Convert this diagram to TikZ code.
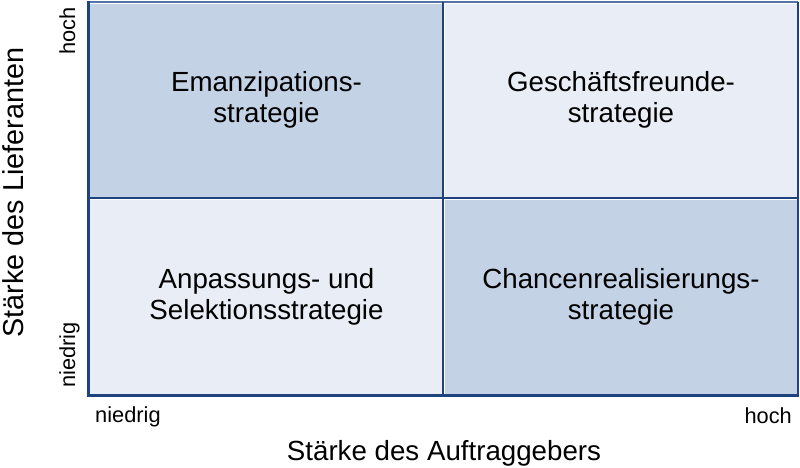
\documentclass[tikz,border=0pt]{standalone}
\usepackage{fontspec}
\setmainfont{Liberation Sans}
\definecolor{cdark}{HTML}{C4D2E5}
\definecolor{clight}{HTML}{E9EDF5}
\definecolor{lnavy}{HTML}{1F437C}
\definecolor{ltop}{HTML}{5573A6}
\begin{document}
\begin{tikzpicture}[x=1pt,y=-1pt,
  celltext/.style={align=center,font=\fontsize{27.7}{31.5}\selectfont,inner sep=0pt},
  axistext/.style={font=\fontsize{27.7}{31}\selectfont,inner sep=0pt},
  ticktext/.style={font=\fontsize{21.8}{24}\selectfont,inner sep=0pt},
  gridline/.style={draw=lnavy,line width=2.2pt}]
\useasboundingbox (0,0) rectangle (800,467);
\fill[white] (0,0) rectangle (800,467);
% cells
\fill[cdark]  (90,3.5)  rectangle (441.5,196.5);
\fill[clight] (444.5,3.5) rectangle (796.5,196.5);
\fill[clight] (90,199.5) rectangle (441.5,393.5);
\fill[cdark]  (444.5,199.5) rectangle (796.5,393.5);
% frame
\coordinate (tl) at (88,1.5);
\coordinate (tr) at (798,1.5);
\coordinate (bl) at (88,395.5);
\coordinate (br) at (798,395.5);
\coordinate (mt) at (443,1.5);
\coordinate (mb) at (443,395.5);
\coordinate (ml) at (88,198);
\coordinate (mr) at (798,198);
\draw[draw=ltop,line width=2pt] (tl) -- (tr);
\draw[draw=lnavy,line width=2pt] (tr) -- (br);
\draw[gridline] (mt) -- (mb);
\draw[gridline] (ml) -- (mr);
\draw[draw=lnavy,line width=3pt] (88,0.5) -- (bl) -- (799,395.5);
% cell texts
\node[celltext] (c1) at (266.5,100) {Emanzipations-\\strategie};
\node[celltext] (c2) at (621,100) {Geschäftsfreunde-\\strategie};
\node[celltext] (c3) at (266.5,297) {Anpassungs- und\\Selektionsstrategie};
\node[celltext] (c4) at (621,297) {Chancenrealisierungs-\\strategie};
% axis labels
\node[axistext,anchor=base] (xl) at (444,460) {Stärke des Auftraggebers};
\node[axistext,anchor=base,rotate=90,font=\fontsize{28.8}{31}\selectfont] (yl) at (23.5,192.5) {Stärke des Lieferanten};
% ticks
\node[ticktext,anchor=base west] (xn) at (95,422) {niedrig};
\node[ticktext,anchor=base east] (xh) at (792,423) {hoch};
\node[ticktext,anchor=base east,rotate=90] (yh) at (75,7) {hoch};
\node[ticktext,anchor=base west,rotate=90] (yn) at (75,388) {niedrig};
\end{tikzpicture}
\end{document}
